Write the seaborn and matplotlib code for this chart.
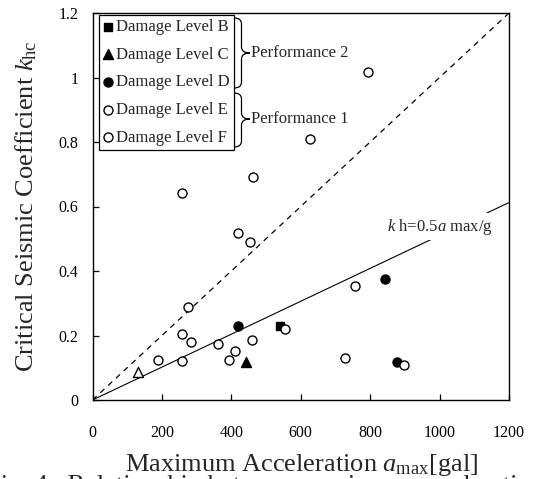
import matplotlib
matplotlib.use("Agg")
import matplotlib.pyplot as plt
import numpy as np
import pandas as pd
import seaborn as sns
from matplotlib.path import Path
from matplotlib.patches import PathPatch

# maximum acceleration [gal] and critical seismic coefficient per damage level
acc_b = [541]
khc_b = [0.229]
acc_c = [442]
khc_c = [0.118]
acc_d = [418, 843, 876]
khc_d = [0.229, 0.375, 0.117]
acc_e = [257, 418, 453, 275, 554, 257, 284, 362]
khc_e = [0.641, 0.519, 0.490, 0.289, 0.220, 0.205, 0.181, 0.174]
acc_f = [460, 410, 392, 190, 257, 757, 727, 897, 793, 627, 463]
khc_f = [0.185, 0.153, 0.124, 0.124, 0.120, 0.353, 0.129, 0.109, 1.018, 0.809, 0.692]
acc_open_tri = [131]
khc_open_tri = [0.088]

# reference lines
line_acc = [0, 1200]
g = 980.0
xticks = [0, 200, 400, 600, 800, 1000, 1200]
yticks = [0, 0.2, 0.4, 0.6, 0.8, 1.0, 1.2]
ytick_labels = ["0", "0.2", "0.4", "0.6", "0.8", "1", "1.2"]

sns.set_style("ticks")
plt.rcParams["font.family"] = ["Liberation Serif", "DejaVu Serif"]
plt.rcParams["mathtext.fontset"] = "custom"
plt.rcParams["mathtext.rm"] = "Liberation Serif"
plt.rcParams["mathtext.it"] = "Liberation Serif:italic"

W, H = 536, 479
fig = plt.figure(figsize=(W / 100, H / 100), dpi=100)
ax = fig.add_axes([92.5 / W, 1 - 400 / H, (509 - 92.5) / W, (400 - 13) / H])

dash_line = pd.DataFrame({"a": line_acc, "k": [a / 1000 for a in line_acc]})
solid_line = pd.DataFrame({"a": line_acc, "k": [0.5 * a / g for a in line_acc]})
sns.lineplot(data=dash_line, x="a", y="k", ax=ax, color="black", lw=0.9,
             dashes=False, zorder=2).lines[-1].set_dashes((4.5, 4))
sns.lineplot(data=solid_line, x="a", y="k", ax=ax, color="black", lw=0.8, zorder=2)

kw = dict(ax=ax, linewidth=1.0, zorder=3)
sns.scatterplot(x=acc_b, y=khc_b, marker="s", s=34, color="black", edgecolor="black",
                label="Damage Level B", **kw)
sns.scatterplot(x=acc_c, y=khc_c, marker="^", s=52, color="black", edgecolor="black",
                label="Damage Level C", **kw)
sns.scatterplot(x=acc_d, y=khc_d, marker="o", s=42, color="black", edgecolor="black",
                label="Damage Level D", **kw)
sns.scatterplot(x=acc_e, y=khc_e, marker="o", s=42, color="white", edgecolor="black",
                label="Damage Level E", **kw)
sns.scatterplot(x=acc_f, y=khc_f, marker="o", s=42, color="white", edgecolor="black",
                label="Damage Level F", **kw)
sns.scatterplot(x=acc_open_tri, y=khc_open_tri, marker="^", s=52, color="white",
                edgecolor="black", **kw)

ax.set_xlim(0, 1200)
ax.set_ylim(0, 1.2)
ax.set_xticks(xticks)
ax.set_yticks(yticks)
ax.set_yticklabels(ytick_labels)
ax.tick_params(direction="in", length=4, width=0.9, labelsize=11.5, colors="black")
ax.tick_params(axis="x", pad=18)
ax.tick_params(axis="y", pad=10)
for sp in ax.spines.values():
    sp.set_visible(True)
    sp.set_linewidth(1.0)
    sp.set_color("black")

ax.set_xlabel(r"Maximum Acceleration $\mathit{a}_{\mathrm{max}}$[gal]", fontsize=19,
              va="baseline")
ax.xaxis.set_label_coords(0.503, -0.183)
ax.set_ylabel(r"Critical Seismic Coefficient $\mathit{k}_{\mathrm{hc}}$", fontsize=19,
              va="baseline")
ax.yaxis.set_label_coords(-0.143, 0.5)

ax.text(1153, 0.537, r"$\mathit{k}$ h=0.5$\mathit{a}$ max/g", fontsize=12,
        ha="right", va="center", zorder=4,
        bbox=dict(fc="white", ec="none", pad=2.5))

handles, labels = ax.get_legend_handles_labels()
leg = ax.legend(handles, labels, loc="upper left",
                bbox_to_anchor=(6.5 / 416.5, 1 - 2 / 387), borderaxespad=0,
                fontsize=12, frameon=True, fancybox=False, framealpha=1,
                edgecolor="black", handlelength=0.6, handletextpad=0.2,
                borderpad=0.25, labelspacing=0.7)
leg.get_frame().set_linewidth(0.9)


def brace(x0, xm, xt, ytop, ybot, ymid, r):
    pts = [(x0, ytop), (xm, ytop), (xm, ytop + r), (xm, ymid - r), (xm, ymid),
           (xt, ymid), (xm, ymid), (xm, ymid + r), (xm, ybot - r), (xm, ybot),
           (x0, ybot)]
    codes = [Path.MOVETO, Path.CURVE3, Path.CURVE3, Path.LINETO, Path.CURVE3,
             Path.CURVE3, Path.CURVE3, Path.CURVE3, Path.LINETO, Path.CURVE3,
             Path.CURVE3]
    verts = [(px / W, 1 - py / H) for px, py in pts]
    fig.add_artist(PathPatch(Path(verts, codes), fc="none", ec="black", lw=0.9,
                             transform=fig.transFigure))


brace(234, 241.5, 250, 18, 88, 53, 6)
brace(234, 241.5, 250, 93, 147, 119, 6)
fig.text(251 / W, 1 - 53 / H, "Performance 2", fontsize=12, va="center", ha="left")
fig.text(251 / W, 1 - 119 / H, "Performance 1", fontsize=12, va="center", ha="left")

# caption cut off at the bottom edge of the image
fig.text(-14 / W, 1 - 474 / H,
         "Fig. 4   Relationship between maximum acceleration and seismic coefficient",
         fontsize=19, va="top", ha="left")

fig.savefig("out.png", dpi=100)
